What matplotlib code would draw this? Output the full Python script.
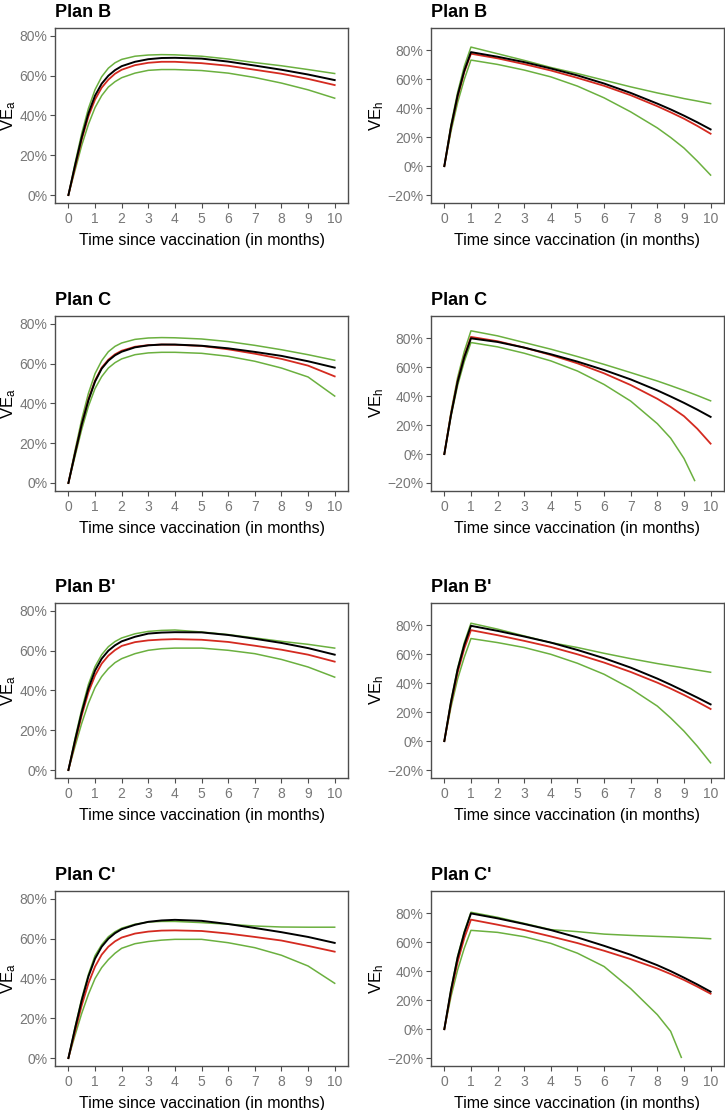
import matplotlib
matplotlib.use('Agg')
import matplotlib.pyplot as plt
import numpy as np
from matplotlib.ticker import FuncFormatter

plt.rcParams['font.family'] = ['Liberation Sans', 'DejaVu Sans']
plt.rcParams['mathtext.default'] = 'regular'

plans = ['Plan B', 'Plan C', "Plan B'", "Plan C'"]
x_ticks = list(range(0, 11))
ya_ticks = [0, 20, 40, 60, 80]
yh_ticks = [-20, 0, 20, 40, 60, 80]

# time grids (months)
t_a = [0, 0.25, 0.5, 0.75, 1, 1.25, 1.5, 1.75, 2, 2.5, 3, 3.5, 4, 5, 6, 7, 8, 9, 10]
t_h = [0, 0.25, 0.5, 0.75, 1, 2, 3, 4, 5, 6, 7, 8, 8.5, 9, 9.5, 10]

# VE_a (%): black, red, green upper, green lower
va_B_black = [0, 15, 29, 41, 50, 56, 60, 62.8, 64.8, 67, 68.3, 68.9, 69.0, 68.6, 67.1, 65.1, 63, 60.6, 57.8]
va_B_red = [0, 14, 28, 39.5, 48, 54, 58, 61, 63, 65.3, 66.5, 67, 67, 66.3, 65, 63, 61, 58.4, 55.3]
va_B_hi = [0, 16, 31, 43.5, 53, 59.5, 63.8, 66.5, 68.2, 69.8, 70.4, 70.6, 70.5, 69.8, 68.4, 66.6, 65, 63.1, 61.1]
va_B_lo = [0, 12.5, 25, 35.5, 44, 50, 54.3, 57, 59, 61.3, 62.7, 63.1, 63.1, 62.6, 61.3, 59.1, 56.3, 52.9, 48.7]

va_C_black = [0, 15, 29.5, 41.5, 51, 57.5, 61.5, 64.2, 66, 68.2, 69.2, 69.6, 69.6, 69, 67.7, 65.9, 63.9, 61.2, 58]
va_C_red = [0, 15, 29.5, 42, 51.5, 58, 62, 64.7, 66.5, 68.5, 69.3, 69.6, 69.5, 68.9, 67.2, 65, 62.4, 59, 53.6]
va_C_hi = [0, 16.5, 32, 45, 55, 61.5, 66, 68.7, 70.4, 72.2, 72.9, 73.1, 73.0, 72.4, 71.1, 69.2, 67, 64.5, 61.7]
va_C_lo = [0, 13.5, 27, 38.5, 47.5, 53.5, 57.8, 60.5, 62.4, 64.5, 65.4, 65.7, 65.7, 65.2, 63.7, 61.2, 57.8, 53.3, 43.7]

va_Bp_black = [0, 15, 29, 41, 50, 56, 60, 62.7, 64.7, 67, 68.6, 69.1, 69.3, 69.2, 67.9, 66, 63.9, 61.3, 58]
va_Bp_red = [0, 14, 27.5, 39, 47.5, 53.5, 57.5, 60.3, 62.4, 64.3, 65.2, 65.6, 65.8, 65.5, 64.4, 62.5, 60.5, 58, 54.5]
va_Bp_hi = [0, 16, 30.5, 43, 52, 58, 62, 64.6, 66.4, 68.5, 69.7, 70.2, 70.4, 69.4, 68.1, 66.4, 64.7, 63.2, 61.3]
va_Bp_lo = [0, 12, 23.5, 33.5, 41.5, 47, 51, 54, 56, 58.5, 60.2, 61, 61.3, 61.3, 60.2, 58.5, 55.6, 51.8, 46.7]

va_Cp_black = [0, 15, 29, 41, 50, 56, 60, 62.8, 64.8, 67, 68.5, 69.2, 69.5, 69, 67.4, 65.4, 63.3, 60.9, 57.9]
va_Cp_red = [0, 13.5, 26.5, 37.5, 46, 52, 56, 58.7, 60.6, 62.6, 63.6, 64.1, 64.2, 63.9, 62.6, 60.9, 59.1, 56.4, 53.5]
va_Cp_hi = [0, 15.5, 30, 42, 51.5, 57, 61, 63.5, 65.3, 67.3, 68.4, 68.7, 68.7, 68.1, 67.3, 66.4, 65.9, 65.8, 65.8]
va_Cp_lo = [0, 11.5, 22.5, 32, 40, 45.5, 49.5, 52.7, 55.2, 57.5, 58.6, 59.3, 59.7, 59.7, 58, 55.5, 51.7, 46.3, 37.6]

# VE_h (%)
vh_B_black = [0, 27, 49, 66, 78.8, 75.6, 71.9, 67.5, 62.7, 57.1, 50.6, 43.2, 39.2, 34.9, 30.3, 25.4]
vh_B_red = [0, 26.5, 48, 65, 77.7, 74.5, 70.5, 66.1, 61, 55.5, 49, 41.4, 37.2, 32.8, 27.8, 22.4]
vh_B_hi = [0, 28.5, 51, 69, 82.3, 77.7, 73.1, 68.2, 64, 59.4, 54.8, 50.6, 48.7, 46.7, 45, 43.2]
vh_B_lo = [0, 24, 44, 60, 73.3, 70.3, 66.4, 61.7, 55.3, 47.2, 37.5, 26.4, 19.8, 12.5, 3.5, -6.2]

vh_C_black = [0, 27, 50, 67, 80, 77.5, 73.6, 69, 63.9, 58.1, 51.6, 44, 39.8, 35.4, 30.7, 25.7]
vh_C_red = [0, 27.5, 50.5, 67.5, 81, 78, 73.6, 68.5, 62.7, 55.8, 47.7, 38.2, 32.6, 26.2, 17.5, 7.2]
vh_C_hi = [0, 29, 53, 71, 85.2, 81.7, 77.1, 72.5, 67.4, 62, 56.3, 50.5, 47.3, 44, 40.5, 36.8]
vh_C_lo = [0, 26, 47.5, 64, 77.1, 74.1, 69.7, 64.4, 57.4, 48.1, 36.6, 21, 11, -3, np.nan, np.nan]
vh_C_lo_end = (9.4, -18.3)

vh_Bp_black = [0, 27, 49.5, 66.5, 79.7, 76.2, 72.3, 68.1, 63, 57.3, 50.8, 43.2, 39, 34.6, 30.1, 25.4]
vh_Bp_red = [0, 26, 47.5, 64, 76.7, 73.2, 69.3, 65.1, 60, 54.3, 47.8, 40.4, 36.3, 31.9, 27.2, 22.2]
vh_Bp_hi = [0, 28, 50.5, 68, 81.5, 77.4, 72.7, 68.1, 64.7, 60.7, 57, 53.6, 52.1, 50.6, 49.1, 47.6]
vh_Bp_lo = [0, 23.5, 43, 58, 70.9, 68.1, 64.7, 60, 53.8, 46.2, 36.3, 24.2, 16, 6.9, -3.5, -15]

vh_Cp_black = [0, 27, 49.5, 66.5, 80, 76.6, 72.7, 68.5, 63.4, 57.6, 51.4, 44.2, 40.1, 35.6, 30.9, 25.9]
vh_Cp_red = [0, 25.5, 46.5, 63, 75.7, 72.2, 68.5, 64.1, 59.5, 54.2, 48.4, 41.9, 38.1, 34, 29.4, 24.5]
vh_Cp_hi = [0, 27.5, 50.5, 67.5, 80.8, 77.3, 73.1, 68.8, 67.4, 65.7, 64.8, 64.1, 63.8, 63.4, 63, 62.5]
vh_Cp_lo = [0, 22.5, 41, 56, 68.3, 66.9, 63.9, 59.3, 52.5, 43.3, 28, 10, -1.5, np.nan, np.nan, np.nan]
vh_Cp_lo_end = (8.9, -19.5)

va_panels = [
    (va_B_black, va_B_red, va_B_hi, va_B_lo),
    (va_C_black, va_C_red, va_C_hi, va_C_lo),
    (va_Bp_black, va_Bp_red, va_Bp_hi, va_Bp_lo),
    (va_Cp_black, va_Cp_red, va_Cp_hi, va_Cp_lo),
]
vh_panels = [
    (vh_B_black, vh_B_red, vh_B_hi, vh_B_lo, None),
    (vh_C_black, vh_C_red, vh_C_hi, vh_C_lo, vh_C_lo_end),
    (vh_Bp_black, vh_Bp_red, vh_Bp_hi, vh_Bp_lo, None),
    (vh_Cp_black, vh_Cp_red, vh_Cp_hi, vh_Cp_lo, vh_Cp_lo_end),
]

BLACK = '#000000'
RED = '#d42a20'
GREEN = '#6bb03f'


def pct(v, pos):
    s = '%d%%' % v
    return s.replace('-', '\u2212')


def style(ax):
    for sp in ax.spines.values():
        sp.set_color('#4d4d4d')
        sp.set_linewidth(1.0)
    ax.tick_params(direction='out', length=3.5, width=0.8, color='#4d4d4d',
                   labelcolor='#777777', labelsize=10, pad=3)
    ax.tick_params(axis='y', pad=2)
    ax.set_xlim(-0.5, 10.5)
    ax.set_xticks(x_ticks)
    ax.yaxis.set_major_formatter(FuncFormatter(pct))
    ax.set_xlabel('Time since vaccination (in months)', fontsize=11.5, labelpad=5)


def add_tail(series, t, end):
    tt = list(t)
    vv = list(series)
    # drop trailing NaNs, then add the last visible point
    while np.isnan(vv[-1]):
        vv.pop()
        tt.pop()
    tt.append(end[0])
    vv.append(end[1])
    return tt, vv


fig = plt.figure(figsize=(7.25, 11.1), dpi=100)
lefts = [0.076, 0.5945]
bottoms = [0.8171, 0.5577, 0.2991, 0.0396]
w, h = 0.404, 0.1577

for i, plan in enumerate(plans):
    # left: VE_a
    ax = fig.add_axes([lefts[0], bottoms[i], w, h])
    black, red, hi, lo = va_panels[i]
    ax.plot(t_a, hi, color=GREEN, lw=1.1)
    ax.plot(t_a, lo, color=GREEN, lw=1.1)
    ax.plot(t_a, red, color=RED, lw=1.3)
    ax.plot(t_a, black, color=BLACK, lw=1.4)
    style(ax)
    ax.set_ylim(-4, 84)
    ax.set_yticks(ya_ticks)
    ax.set_ylabel('VE$_{a}$', fontsize=12, labelpad=1)
    ax.set_title(plan, loc='left', fontsize=13, fontweight='bold', pad=8)

    # right: VE_h
    ax = fig.add_axes([lefts[1], bottoms[i], w, h])
    black, red, hi, lo, end = vh_panels[i]
    ax.plot(t_h, hi, color=GREEN, lw=1.1)
    if end is None:
        ax.plot(t_h, lo, color=GREEN, lw=1.1)
    else:
        tt, vv = add_tail(lo, t_h, end)
        ax.plot(tt, vv, color=GREEN, lw=1.1)
    ax.plot(t_h, red, color=RED, lw=1.3)
    ax.plot(t_h, black, color=BLACK, lw=1.4)
    style(ax)
    ax.set_ylim(-25.5, 95.5)
    ax.set_yticks(yh_ticks)
    ax.set_ylabel('VE$_{h}$', fontsize=12, labelpad=1)
    ax.set_title(plan, loc='left', fontsize=13, fontweight='bold', pad=8)

fig.savefig('out.png', dpi=100)
